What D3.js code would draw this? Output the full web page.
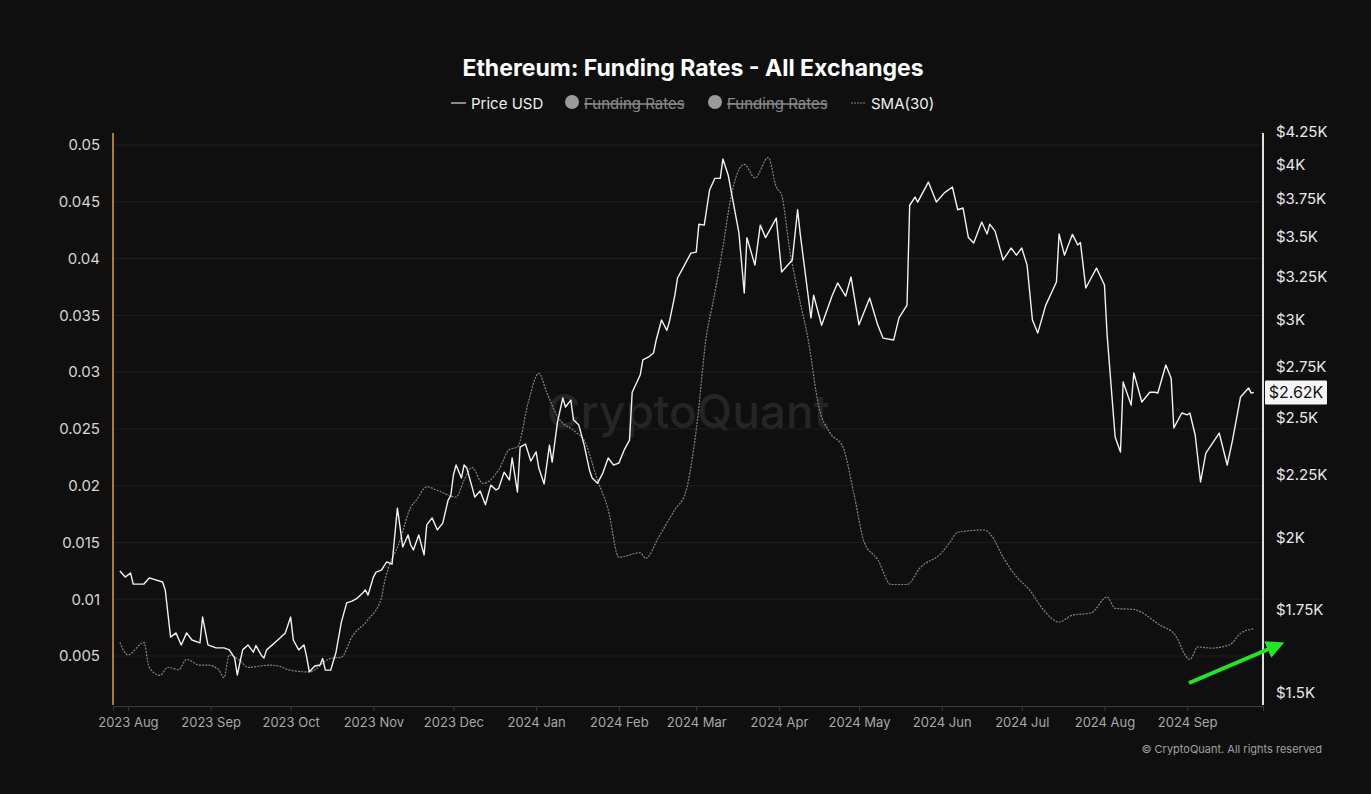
<!DOCTYPE html>
<html><head><meta charset="utf-8">
<script src="https://cdn.jsdelivr.net/npm/d3@7"></script>
<style>html,body{margin:0;background:#0f0f0f;}svg{display:block;font-family:Inter,"Noto Sans",sans-serif;}</style>
</head><body><svg id="c" width="1371" height="794"></svg>
<script>
const priceDates = ["2023-07-29","2023-07-31","2023-08-02","2023-08-03","2023-08-07","2023-08-09","2023-08-14","2023-08-15","2023-08-17","2023-08-19","2023-08-21","2023-08-23","2023-08-25","2023-08-28","2023-08-29","2023-08-31","2023-09-03","2023-09-06","2023-09-08","2023-09-10","2023-09-11","2023-09-13","2023-09-15","2023-09-17","2023-09-18","2023-09-20","2023-09-21","2023-09-22","2023-09-27","2023-09-29","2023-10-01","2023-10-02","2023-10-04","2023-10-06","2023-10-07","2023-10-08","2023-10-10","2023-10-12","2023-10-13","2023-10-14","2023-10-16","2023-10-18","2023-10-20","2023-10-22","2023-10-24","2023-10-26","2023-10-28","2023-10-29","2023-10-30","2023-11-01","2023-11-02","2023-11-04","2023-11-06","2023-11-08","2023-11-10","2023-11-11","2023-11-12","2023-11-14","2023-11-15","2023-11-16","2023-11-18","2023-11-20","2023-11-21","2023-11-23","2023-11-25","2023-11-27","2023-11-29","2023-11-30","2023-12-01","2023-12-02","2023-12-04","2023-12-05","2023-12-06","2023-12-08","2023-12-09","2023-12-11","2023-12-13","2023-12-15","2023-12-17","2023-12-18","2023-12-20","2023-12-22","2023-12-23","2023-12-25","2023-12-26","2023-12-28","2023-12-30","2024-01-01","2024-01-02","2024-01-04","2024-01-06","2024-01-07","2024-01-09","2024-01-11","2024-01-12","2024-01-14","2024-01-15","2024-01-17","2024-01-19","2024-01-21","2024-01-22","2024-01-24","2024-01-26","2024-01-28","2024-01-30","2024-02-01","2024-02-03","2024-02-05","2024-02-06","2024-02-09","2024-02-10","2024-02-12","2024-02-14","2024-02-15","2024-02-17","2024-02-19","2024-02-20","2024-02-22","2024-02-23","2024-02-25","2024-02-28","2024-03-01","2024-03-02","2024-03-04","2024-03-06","2024-03-08","2024-03-10","2024-03-11","2024-03-13","2024-03-17","2024-03-19","2024-03-20","2024-03-23","2024-03-25","2024-03-27","2024-03-31","2024-04-02","2024-04-06","2024-04-08","2024-04-09","2024-04-13","2024-04-14","2024-04-17","2024-04-21","2024-04-23","2024-04-26","2024-04-28","2024-05-01","2024-05-05","2024-05-08","2024-05-10","2024-05-14","2024-05-16","2024-05-19","2024-05-20","2024-05-22","2024-05-23","2024-05-27","2024-05-30","2024-06-02","2024-06-05","2024-06-07","2024-06-09","2024-06-11","2024-06-13","2024-06-16","2024-06-18","2024-06-19","2024-06-21","2024-06-24","2024-06-27","2024-06-29","2024-07-01","2024-07-03","2024-07-05","2024-07-07","2024-07-10","2024-07-14","2024-07-15","2024-07-17","2024-07-20","2024-07-22","2024-07-23","2024-07-25","2024-07-27","2024-07-29","2024-08-01","2024-08-02","2024-08-05","2024-08-07","2024-08-08","2024-08-11","2024-08-12","2024-08-15","2024-08-18","2024-08-20","2024-08-21","2024-08-24","2024-08-26","2024-08-27","2024-08-30","2024-09-01","2024-09-02","2024-09-04","2024-09-06","2024-09-08","2024-09-10","2024-09-13","2024-09-16","2024-09-18","2024-09-21","2024-09-24","2024-09-25","2024-09-26"];
const priceValues = [1881,1860,1874,1836,1836,1857,1843,1816,1664,1677,1640,1677,1655,1646,1727,1640,1631,1631,1625,1601,1551,1625,1640,1618,1638,1609,1601,1625,1661,1677,1727,1655,1625,1640,1604,1560,1577,1580,1599,1565,1565,1618,1711,1773,1779,1789,1806,1816,1799,1860,1877,1884,1913,1905,2114,2041,1967,2011,1974,1956,2011,1938,2049,2076,2030,2056,2145,2162,2248,2290,2235,2290,2277,2198,2158,2182,2127,2206,2186,2194,2260,2227,2320,2178,2367,2381,2307,2346,2277,2211,2376,2302,2480,2593,2550,2583,2490,2466,2376,2268,2235,2214,2256,2320,2290,2298,2355,2398,2621,2706,2783,2797,2819,2888,2997,2940,2991,3138,3240,3300,3393,3399,3580,3574,3814,3898,3898,4040,3920,3522,3151,3492,3318,3574,3492,3621,3276,3350,3677,3513,3009,3138,2968,3138,3210,3133,3246,2970,3122,2970,2898,2888,3009,3081,3708,3765,3730,3871,3730,3794,3836,3677,3689,3492,3457,3594,3515,3580,3534,3350,3425,3380,3425,3318,2997,2925,3081,3216,3515,3380,3513,3444,3460,3180,3240,3300,3198,2914,2412,2346,2671,2559,2716,2574,2621,2621,2617,2757,2690,2453,2522,2513,2522,2421,2219,2341,2376,2430,2290,2398,2598,2642,2617,2620];
const smaDates = ["2023-07-29","2023-08-01","2023-08-07","2023-08-09","2023-08-13","2023-08-16","2023-08-20","2023-08-23","2023-08-28","2023-08-31","2023-09-04","2023-09-06","2023-09-08","2023-09-12","2023-09-15","2023-09-23","2023-09-27","2023-09-30","2023-10-08","2023-10-16","2023-10-20","2023-10-24","2023-10-30","2023-11-04","2023-11-05","2023-11-11","2023-11-15","2023-11-17","2023-11-21","2023-11-25","2023-12-02","2023-12-05","2023-12-08","2023-12-12","2023-12-18","2023-12-22","2023-12-25","2023-12-29","2024-01-02","2024-01-05","2024-01-09","2024-01-16","2024-01-19","2024-01-24","2024-01-28","2024-02-01","2024-02-09","2024-02-11","2024-02-16","2024-02-22","2024-02-26","2024-03-01","2024-03-05","2024-03-07","2024-03-11","2024-03-14","2024-03-19","2024-03-23","2024-03-28","2024-03-31","2024-04-02","2024-04-05","2024-04-08","2024-04-12","2024-04-16","2024-04-20","2024-04-25","2024-04-29","2024-05-03","2024-05-08","2024-05-13","2024-05-19","2024-05-24","2024-06-01","2024-06-04","2024-06-07","2024-06-17","2024-06-20","2024-06-24","2024-06-29","2024-07-04","2024-07-09","2024-07-15","2024-07-20","2024-07-27","2024-08-02","2024-08-05","2024-08-12","2024-08-22","2024-08-27","2024-09-02","2024-09-05","2024-09-10","2024-09-17","2024-09-21","2024-09-26"];
const smaValues = [0.0062,0.0051,0.0062,0.0040,0.0033,0.0040,0.0038,0.0047,0.0042,0.0042,0.0038,0.0031,0.0051,0.0046,0.0040,0.0042,0.0041,0.0038,0.0036,0.0048,0.0049,0.0067,0.0082,0.0101,0.0113,0.0152,0.0181,0.0187,0.0199,0.0196,0.0190,0.0205,0.0216,0.0202,0.0214,0.0232,0.0234,0.0273,0.0299,0.0282,0.0261,0.0247,0.0240,0.0205,0.0179,0.0137,0.0141,0.0136,0.0155,0.0179,0.0194,0.0249,0.0335,0.0358,0.0410,0.0454,0.0483,0.0471,0.0489,0.0463,0.0456,0.0408,0.0372,0.0328,0.0269,0.0247,0.0234,0.0194,0.0150,0.0135,0.0113,0.0113,0.0128,0.0141,0.0150,0.0159,0.0161,0.0155,0.0137,0.0120,0.0108,0.0091,0.0080,0.0086,0.0088,0.0102,0.0092,0.0091,0.0077,0.0070,0.0047,0.0058,0.0057,0.0060,0.0070,0.0074];
const leftTicks = [0.005,0.01,0.015,0.02,0.025,0.03,0.035,0.04,0.045,0.05];
const leftLabels = ["0.005","0.01","0.015","0.02","0.025","0.03","0.035","0.04","0.045","0.05"];
const rightTicks = [1500,1750,2000,2250,2500,2750,3000,3250,3500,3750,4000,4250];
const rightLabels = ["$1.5K","$1.75K","$2K","$2.25K","$2.5K","$2.75K","$3K","$3.25K","$3.5K","$3.75K","$4K","$4.25K"];
const lastPriceLabel = "$2.62K";

const svg = d3.select("#c");
const L=113, R=1263, T=133, B=705;
const parse = d3.timeParse("%Y-%m-%d");
const x = d3.scaleTime().domain([new Date(2023,6,26,10), new Date(2024,8,29,10)]).range([L,R]);
const yL = d3.scaleLinear().domain([0.00069,0.05106]).range([B,T]);
const yR = d3.scaleLog().domain([1467,4240]).range([B,T]);

svg.append("rect").attr("width",1371).attr("height",794).attr("fill","#0f0f0f");

// grid
svg.append("g").selectAll("line").data(leftTicks).join("line")
  .attr("x1",L).attr("x2",R).attr("y1",d=>yL(d)).attr("y2",d=>yL(d))
  .attr("stroke","#1f1f1f").attr("stroke-width",1);

// watermark
svg.append("text").attr("x",688).attr("y",428).attr("text-anchor","middle")
  .attr("font-size",46).attr("font-weight",500).attr("fill","#262424").text("CryptoQuant");

// left axis
const gl = svg.append("g").attr("transform",`translate(${L},0)`)
  .call(d3.axisLeft(yL).tickValues(leftTicks).tickFormat((d,i)=>leftLabels[i]).tickSize(0).tickPadding(13));
gl.select(".domain").remove();
gl.selectAll("text").attr("fill","#d6d6d6").attr("font-size",15).attr("font-family","Inter,sans-serif");
svg.append("line").attr("x1",L).attr("x2",L).attr("y1",T).attr("y2",B).attr("stroke","#b07a1e").attr("stroke-width",2);

// right axis
const gr = svg.append("g").attr("transform",`translate(${R},0)`)
  .call(d3.axisRight(yR).tickValues(rightTicks).tickFormat((d,i)=>rightLabels[i]).tickSize(0).tickPadding(13));
gr.select(".domain").remove();
gr.selectAll("text").attr("fill","#e8e8e8").attr("font-size",15).attr("font-family","Inter,sans-serif");
svg.append("line").attr("x1",R).attr("x2",R).attr("y1",T).attr("y2",B).attr("stroke","#e0e0e0").attr("stroke-width",2);

// x axis
const gx = svg.append("g").attr("transform",`translate(0,${B+1})`)
  .call(d3.axisBottom(x).ticks(d3.timeMonth.every(1)).tickFormat(d3.timeFormat("%Y %b")).tickSize(5).tickPadding(7));
gx.select(".domain").attr("stroke","#3a3a3a");
gx.selectAll(".tick line").attr("stroke","#3a3a3a");
gx.selectAll("text").attr("fill","#a8a8a8").attr("font-size",13).attr("font-family","Inter,sans-serif");

// SMA line
const sma = smaDates.map((d,i)=>({d:parse(d),v:smaValues[i]}));
svg.append("path").datum(sma).attr("fill","none").attr("stroke","#8a8470").attr("stroke-width",1.2)
  .attr("stroke-dasharray","2,1.2")
  .attr("d",d3.line().x(p=>x(p.d)).y(p=>yL(p.v)).curve(d3.curveMonotoneX));

// price line
const price = priceDates.map((d,i)=>({d:parse(d),v:priceValues[i]}));
svg.append("path").datum(price).attr("fill","none").attr("stroke","#f2f2f2").attr("stroke-width",1.4)
  .attr("stroke-linejoin","round")
  .attr("d",d3.line().x(p=>x(p.d)).y(p=>yR(p.v)));

// last price label
const lp = yR(priceValues[priceValues.length-1]);
svg.append("rect").attr("x",R+2).attr("y",lp-12).attr("width",62).attr("height",24).attr("fill","#f5f5f5").attr("rx",1);
svg.append("text").attr("x",R+33).attr("y",lp+6).attr("text-anchor","middle").attr("font-size",16).attr("fill","#111").text(lastPriceLabel);

// title
svg.append("text").attr("x",693).attr("y",76).attr("text-anchor","middle").attr("font-size",23).attr("font-weight",700).attr("fill","#ffffff").text("Ethereum: Funding Rates - All Exchanges");

// legend
const lg = svg.append("g").attr("font-size",15);
lg.append("line").attr("x1",451).attr("x2",466).attr("y1",103).attr("y2",103).attr("stroke","#ddd").attr("stroke-width",1.2);
lg.append("text").attr("x",471).attr("y",109).attr("fill","#f0f0f0").text("Price USD");
[[572,"Funding Rates"],[715,"Funding Rates"]].forEach(([cx,t])=>{
  lg.append("circle").attr("cx",cx).attr("cy",102).attr("r",7).attr("fill","#9a9a9a");
  lg.append("text").attr("x",cx+12).attr("y",109).attr("fill","#8a8a8a").attr("text-decoration","line-through").text(t);
});
lg.append("line").attr("x1",851).attr("x2",866).attr("y1",103).attr("y2",103).attr("stroke","#8a8470").attr("stroke-width",1.2).attr("stroke-dasharray","2,1");
lg.append("text").attr("x",871).attr("y",109).attr("fill","#f0f0f0").text("SMA(30)");

// copyright
svg.append("text").attr("x",1322).attr("y",753).attr("text-anchor","end").attr("font-size",11).attr("fill","#a0a0a0").text("© CryptoQuant. All rights reserved");

// green arrow
svg.append("defs").append("marker").attr("id","ah").attr("viewBox","0 0 10 10").attr("refX",5).attr("refY",5)
  .attr("markerWidth",4.5).attr("markerHeight",4.5).attr("orient","auto")
  .append("path").attr("d","M0,0 L10,5 L0,10 z").attr("fill","#22e622");
svg.append("line").attr("x1",1189).attr("y1",683).attr("x2",1276).attr("y2",646)
  .attr("stroke","#22e622").attr("stroke-width",4).attr("marker-end","url(#ah)");
</script></body></html>
